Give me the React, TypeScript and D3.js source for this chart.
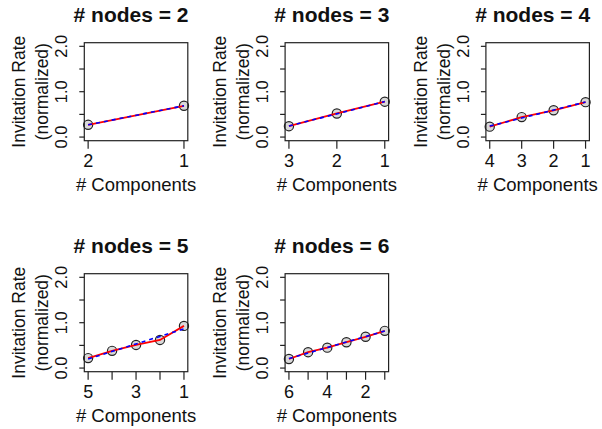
import React from "react";
import * as d3 from "d3";

// nodes per panel
const nodeCounts = [2, 3, 4, 5, 6];
// invitation rate by # components (ordered from max components down to 1)
const rates2 = [0.27, 0.69];
const rates3 = [0.24, 0.52, 0.78];
const rates4 = [0.23, 0.44, 0.59, 0.77];
const rates5 = [0.22, 0.38, 0.51, 0.62, 0.93];
const rates6 = [0.2, 0.35, 0.45, 0.57, 0.69, 0.82];
const allRates = [rates2, rates3, rates4, rates5, rates6];
// x tick labels shown per panel
const xLabels2 = [2, 1];
const xLabels3 = [3, 2, 1];
const xLabels4 = [4, 3, 2, 1];
const xLabels5 = [5, 3, 1];
const xLabels6 = [6, 4, 2];
const allXLabels = [xLabels2, xLabels3, xLabels4, xLabels5, xLabels6];
const yTicks = [0, 0.5, 1, 1.5, 2];
const yTickLabels = ["0.0", "", "1.0", "", "2.0"];

const W = 602;
const H = 429;
const boxW = 103.5;
const boxH = 98;
const font = "Liberation Sans, Arial, Helvetica, sans-serif";

function Panel({ idx }: { idx: number }) {
  const n = nodeCounts[idx];
  const rates = allRates[idx];
  const col = idx % 3;
  const row = Math.floor(idx / 3);
  const left = 84.3 + col * 200.8;
  const top = 42.7 + row * 231;
  const xs = rates.map((_, i) => n - i);
  const pad = 0.04 * (n - 1);
  const x = d3.scaleLinear().domain([n + pad, 1 - pad]).range([left, left + boxW]);
  const y = d3.scaleLinear().domain([-0.08, 2.08]).range([top + boxH, top]);
  const data = xs.map((xv, i) => ({ x: xv, y: rates[i] }));
  const line = d3
    .line<{ x: number; y: number }>()
    .x((d) => x(d.x))
    .y((d) => y(d.y));
  // least-squares fit of the plotted points
  const mx = d3.mean(xs) as number;
  const my = d3.mean(rates) as number;
  const sxy = d3.sum(xs.map((xv, i) => (xv - mx) * (rates[i] - my)));
  const sxx = d3.sum(xs.map((xv) => (xv - mx) ** 2));
  const slope = sxy / sxx;
  const icpt = my - slope * mx;
  const fit = [n, 1].map((xv) => ({ x: xv, y: icpt + slope * xv }));
  const cx = left + boxW / 2;
  const allTicks = d3.range(n, 0, -1);
  return (
    <g>
      <text
        x={cx - 5}
        y={top - 21}
        textAnchor="middle"
        fontFamily={font}
        fontWeight="bold"
        fontSize={21}
        fill="#111"
      >
        # nodes = {n}
      </text>
      <rect x={left} y={top} width={boxW} height={boxH} fill="none" stroke="#222" strokeWidth={1.2} />
      {yTicks.map((t, i) => (
        <g key={"y" + i}>
          <line x1={left} x2={left - 5} y1={y(t)} y2={y(t)} stroke="#222" strokeWidth={1.2} />
          {yTickLabels[i] && (
            <text
              transform={`translate(${left - 23},${y(t)}) rotate(-90)`}
              textAnchor="middle"
              dominantBaseline="central"
              fontFamily={font}
              fontSize={16.5}
              fill="#111"
            >
              {yTickLabels[i]}
            </text>
          )}
        </g>
      ))}
      {allTicks.map((t) => (
        <line key={"x" + t} x1={x(t)} x2={x(t)} y1={top + boxH} y2={top + boxH + 8} stroke="#222" strokeWidth={1.2} />
      ))}
      {allXLabels[idx].map((t) => (
        <text
          key={"xl" + t}
          x={x(t)}
          y={top + boxH + 26.5}
          textAnchor="middle"
          fontFamily={font}
          fontSize={18}
          fill="#111"
        >
          {t}
        </text>
      ))}
      <text x={cx} y={top + boxH + 50.5} textAnchor="middle" fontFamily={font} fontSize={18.5} fill="#111">
        # Components
      </text>
      <text
        transform={`translate(${left - 65},${top + boxH / 2}) rotate(-90)`}
        textAnchor="middle"
        dominantBaseline="central"
        fontFamily={font}
        fontSize={17.5}
        fill="#111"
      >
        Invitation Rate
      </text>
      <text
        transform={`translate(${left - 42},${top + boxH / 2}) rotate(-90)`}
        textAnchor="middle"
        dominantBaseline="central"
        fontFamily={font}
        fontSize={17.5}
        fill="#111"
      >
        (normalized)
      </text>
      {data.map((d, i) => (
        <circle key={"c" + i} cx={x(d.x)} cy={y(d.y)} r={4.6} fill="rgba(0,0,0,0.15)" stroke="#222" strokeWidth={1.2} />
      ))}
      <path d={line(data) || ""} fill="none" stroke="#ff0000" strokeWidth={1.8} />
      <path d={line(fit) || ""} fill="none" stroke="#0000ff" strokeWidth={1.6} strokeDasharray="4,4" />
    </g>
  );
}

export default function App() {
  return (
    <svg width={W} height={H} style={{ position: "absolute", left: 0, top: 0, background: "#fff" }}>
      <rect width={W} height={H} fill="#fff" />
      {nodeCounts.map((_, i) => (
        <Panel key={i} idx={i} />
      ))}
    </svg>
  );
}
